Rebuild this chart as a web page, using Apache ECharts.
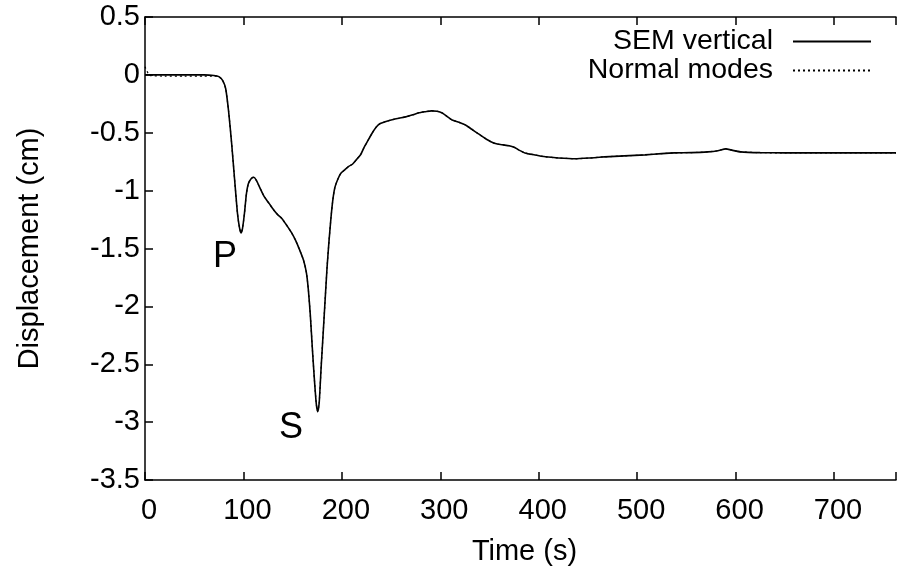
<!DOCTYPE html>
<html>
<head>
<meta charset="utf-8">
<script src="https://cdn.jsdelivr.net/npm/echarts@6/dist/echarts.min.js"></script>
<style>
html,body{margin:0;padding:0;background:#fff;}
#chart{width:899px;height:572px;}
</style>
</head>
<body>
<div id="chart"></div>
<script>
// Time samples (s)
const times = [0,5,20,40,60,70,75,79,82,85,88,91,94,96,97.5,99,101,103,105,108,110.5,113,117,121,126,131,135,139,144,149,153,157,161,164,166,168,170,172,174,175.5,177,179,182,185,187,189,191,193,196,199,203,207,211,215,219,223,227,231,235,239,244,250,258,265,272,278,285,291,297,302,307,312,319,326,332,338,345,352,358,364,370,375,380,386,395,407,420,437,452,467,487,508,525,538,555,572,582,590,597,605,625,650,700,763];
// SEM vertical displacement (cm)
const semValues = [0,0,0,0,0,-0.005,-0.015,-0.05,-0.12,-0.32,-0.59,-0.90,-1.20,-1.32,-1.365,-1.33,-1.20,-1.03,-0.94,-0.895,-0.885,-0.91,-0.98,-1.05,-1.11,-1.17,-1.21,-1.24,-1.30,-1.365,-1.43,-1.51,-1.60,-1.71,-1.86,-2.08,-2.36,-2.62,-2.84,-2.91,-2.83,-2.52,-2.09,-1.66,-1.43,-1.23,-1.07,-0.97,-0.90,-0.85,-0.82,-0.79,-0.77,-0.73,-0.69,-0.62,-0.56,-0.50,-0.45,-0.42,-0.405,-0.39,-0.375,-0.363,-0.345,-0.328,-0.318,-0.311,-0.315,-0.33,-0.36,-0.39,-0.41,-0.435,-0.47,-0.505,-0.545,-0.58,-0.598,-0.605,-0.612,-0.625,-0.65,-0.674,-0.69,-0.708,-0.718,-0.725,-0.718,-0.708,-0.70,-0.691,-0.68,-0.674,-0.672,-0.665,-0.655,-0.639,-0.652,-0.665,-0.672,-0.674,-0.674,-0.674];
// Normal modes displacement (cm)
const nmValues = [0.07,-0.005,-0.01,-0.01,-0.01,-0.01,-0.015,-0.05,-0.12,-0.32,-0.59,-0.90,-1.20,-1.32,-1.365,-1.33,-1.20,-1.03,-0.94,-0.895,-0.885,-0.91,-0.98,-1.05,-1.11,-1.17,-1.21,-1.24,-1.30,-1.365,-1.43,-1.51,-1.60,-1.71,-1.86,-2.08,-2.36,-2.62,-2.84,-2.91,-2.83,-2.52,-2.09,-1.66,-1.43,-1.23,-1.07,-0.97,-0.90,-0.85,-0.82,-0.79,-0.77,-0.73,-0.69,-0.62,-0.56,-0.50,-0.45,-0.42,-0.405,-0.39,-0.375,-0.363,-0.345,-0.328,-0.318,-0.311,-0.315,-0.33,-0.36,-0.39,-0.41,-0.435,-0.47,-0.505,-0.545,-0.58,-0.598,-0.605,-0.612,-0.625,-0.65,-0.674,-0.69,-0.708,-0.718,-0.725,-0.718,-0.708,-0.70,-0.691,-0.68,-0.674,-0.672,-0.665,-0.655,-0.639,-0.652,-0.665,-0.672,-0.674,-0.674,-0.674];
const seriesNames = ['SEM vertical', 'Normal modes'];
const xTitle = 'Time (s)';
const yTitle = 'Displacement (cm)';
const phaseLabels = ['P', 'S'];

const FONT = 'Liberation Sans, Arial, Helvetica, sans-serif';
const FS = 29;
const pair = (vals) => times.map((t, i) => [t, vals[i]]);

const chart = echarts.init(document.getElementById('chart'), null, {renderer: 'canvas'});
const axisLine = {show: true, onZero: false, lineStyle: {color: '#000', width: 1.5}};
chart.setOption({
  animation: false,
  backgroundColor: '#fff',
  grid: {left: 145, right: 0, top: 17, bottom: 92, containLabel: false},
  legend: {
    orient: 'vertical', right: 22, top: 22, align: 'right',
    itemWidth: 78, itemHeight: 14, itemGap: 0,
    itemStyle: {opacity: 0},
    textStyle: {fontFamily: FONT, fontSize: 28.5, color: '#000', padding: [0, 15, 0, 0]},
    data: seriesNames
  },
  xAxis: [{
    type: 'value', min: 0, max: 763, interval: 100, position: 'bottom',
    name: xTitle, nameLocation: 'middle', nameGap: 57,
    nameTextStyle: {fontFamily: FONT, fontSize: FS, color: '#000', padding: [0, 0, 0, 8]},
    axisLine: axisLine,
    axisTick: {show: true, inside: true, length: 8, lineStyle: {color: '#000', width: 1.5}},
    axisLabel: {fontFamily: FONT, fontSize: FS, color: '#000', margin: 16, padding: [0, 0, 0, 8],
      formatter: v => (Math.abs(v % 100) < 1e-9 ? String(v) : '')},
    splitLine: {show: false}
  }, {
    type: 'value', min: 0, max: 763, interval: 100, position: 'top',
    axisLine: axisLine,
    axisTick: {show: true, inside: true, length: 8, lineStyle: {color: '#000', width: 1.5}},
    axisLabel: {show: false}, splitLine: {show: false}
  }],
  yAxis: {
    type: 'value', min: -3.5, max: 0.5, interval: 0.5,
    name: yTitle, nameLocation: 'middle', nameGap: 101, nameRotate: 90,
    nameTextStyle: {fontFamily: FONT, fontSize: FS, color: '#000'},
    axisLine: axisLine,
    axisTick: {show: true, inside: true, length: 8, lineStyle: {color: '#000', width: 1.5}},
    axisLabel: {fontFamily: FONT, fontSize: FS, color: '#000', margin: 5},
    splitLine: {show: false}
  },
  series: [{
    name: seriesNames[0], type: 'line', xAxisIndex: 0, data: pair(semValues),
    symbol: 'none', smooth: 0.2, lineStyle: {color: '#000', width: 1.6, type: 'solid'},
    itemStyle: {color: '#000'}
  }, {
    name: seriesNames[1], type: 'line', xAxisIndex: 0, data: pair(nmValues),
    symbol: 'none', smooth: 0.2, lineStyle: {color: '#000', width: 1.2, type: [2, 3]},
    itemStyle: {color: '#000'}
  }],
  graphic: [
    {type: 'text', left: 213, top: 239, style: {text: phaseLabels[0], font: '36px ' + FONT, fill: '#000'}},
    {type: 'text', left: 279, top: 410, style: {text: phaseLabels[1], font: '36px ' + FONT, fill: '#000'}}
  ]
});
</script>
</body>
</html>
